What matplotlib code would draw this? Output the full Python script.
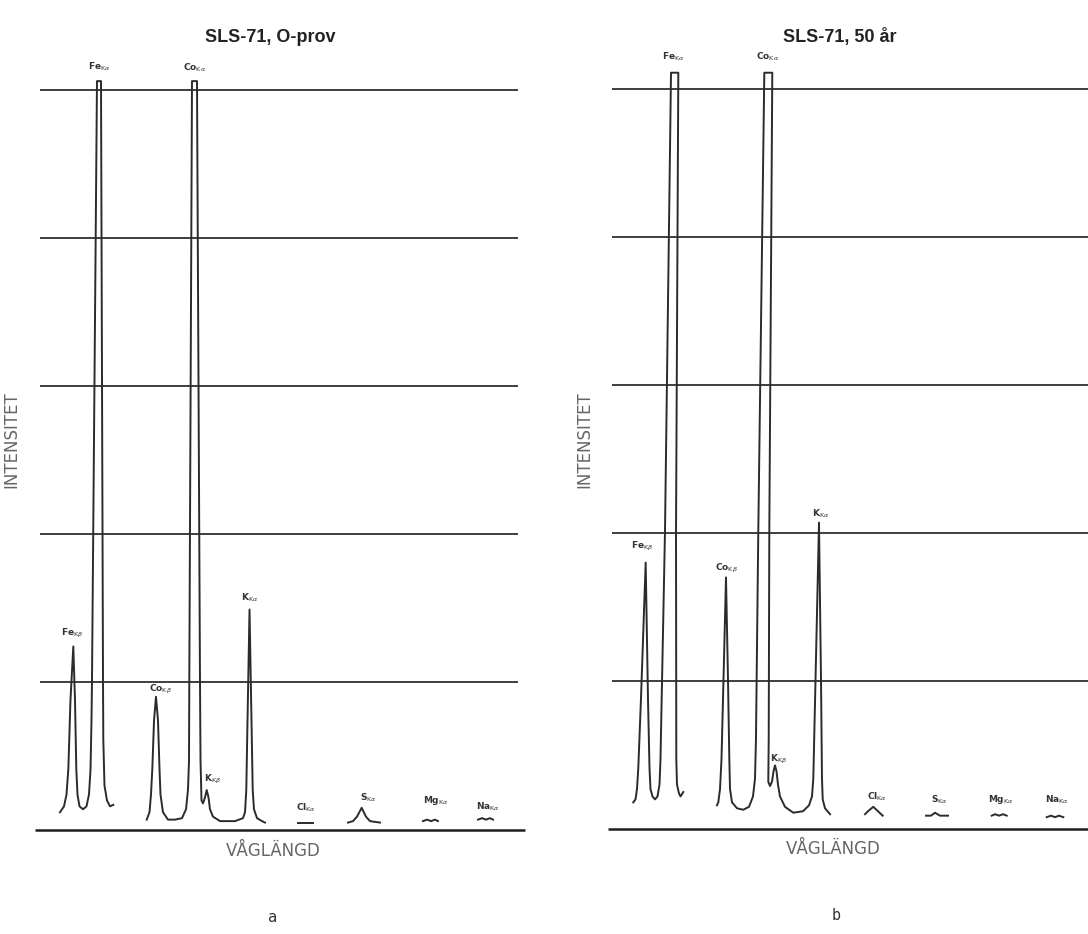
import matplotlib.pyplot as plt

FIG_W_PX = 1088
FIG_H_PX = 934
DPI = 100

# intensity scale: baseline = 0, one unit per chart division
grid_levels = [1, 2, 3, 4, 5]

# ---- panel a: SLS-71, 0-prov (wavelength in arbitrary chart units) ----
a_fe_wl = [5.10, 5.92, 6.43, 6.80, 7.24, 7.82, 8.16, 8.43, 8.67, 9.08, 9.80, 10.51,
           11.02, 11.33, 11.53, 11.63, 12.65, 13.47, 13.88, 13.94, 14.18, 14.69, 15.31, 15.98]
a_fe_int = [0.12, 0.16, 0.24, 0.41, 0.88, 1.24, 0.88, 0.41, 0.24, 0.16, 0.14, 0.16,
            0.24, 0.41, 0.74, 1.01, 5.06, 5.06, 1.01, 0.61, 0.30, 0.20, 0.16, 0.17]

a_cok_wl = [22.80, 23.37, 23.67, 23.94, 24.29, 24.69, 25.10, 25.41, 25.61, 26.12, 27.14,
            28.57, 30.00, 30.82, 31.22, 31.43, 31.49, 32.04, 33.06, 33.67, 33.78, 33.98,
            34.29, 34.69, 35.04, 35.41, 35.71, 36.33, 37.76, 40.82, 42.45, 42.86, 43.12,
            43.37, 43.78, 44.18, 44.43, 44.69, 45.31, 46.33, 46.94]
a_cok_int = [0.07, 0.12, 0.24, 0.41, 0.74, 0.90, 0.74, 0.41, 0.24, 0.12, 0.07,
             0.07, 0.08, 0.14, 0.27, 0.47, 1.01, 5.06, 5.06, 1.01, 0.47, 0.20,
             0.18, 0.22, 0.27, 0.22, 0.14, 0.09, 0.06, 0.06, 0.08, 0.12, 0.27,
             0.74, 1.49, 0.74, 0.27, 0.14, 0.08, 0.06, 0.05]

a_cl_wl = [53.67, 56.73]
a_cl_int = [0.05, 0.05]
a_s_wl = [63.88, 64.90, 65.71, 66.67, 67.55, 68.37, 70.41]
a_s_int = [0.05, 0.06, 0.09, 0.15, 0.09, 0.06, 0.05]
a_mg_wl = [79.18, 80.00, 80.82, 81.63, 82.24]
a_mg_int = [0.06, 0.07, 0.06, 0.07, 0.06]
a_na_wl = [90.41, 91.22, 92.04, 92.86, 93.47]
a_na_int = [0.07, 0.08, 0.07, 0.08, 0.07]

# ---- panel b: SLS-71, 50 år ----
b_fe_wl = [5.16, 5.61, 5.92, 6.18, 6.73, 7.69, 8.16, 8.47, 8.67, 9.08, 9.59, 10.10,
           10.51, 10.71, 11.63, 12.86, 14.35, 13.88, 13.94, 14.08, 14.49, 14.80, 15.37]
b_fe_int = [0.18, 0.20, 0.27, 0.41, 0.88, 1.80, 0.88, 0.41, 0.27, 0.22, 0.20, 0.22,
            0.30, 0.47, 2.01, 5.11, 5.11, 2.01, 0.47, 0.30, 0.24, 0.22, 0.25]

b_cok_wl = [22.24, 22.51, 22.86, 23.16, 23.57, 24.08, 24.49, 24.76, 24.90, 25.31, 26.33,
            27.61, 28.78, 29.59, 30.00, 30.20, 30.67, 31.90, 33.53, 32.92, 32.80, 32.71,
            33.06, 33.47, 33.78, 34.08, 34.39, 34.69, 35.10, 36.12, 37.82, 39.80, 41.02,
            41.63, 41.90, 42.35, 43.06, 43.47, 43.67, 43.82, 44.29, 45.31]
b_cok_int = [0.16, 0.18, 0.27, 0.47, 1.01, 1.70, 1.01, 0.47, 0.27, 0.18, 0.14,
             0.13, 0.15, 0.22, 0.34, 0.61, 2.01, 5.11, 5.11, 2.01, 0.61, 0.32,
             0.29, 0.32, 0.39, 0.43, 0.39, 0.30, 0.22, 0.15, 0.11, 0.12, 0.16,
             0.22, 0.34, 1.01, 2.07, 1.01, 0.34, 0.20, 0.14, 0.10]

b_cl_wl = [52.45, 53.06, 54.14, 55.10, 56.06]
b_cl_int = [0.10, 0.12, 0.15, 0.12, 0.09]
b_s_wl = [64.90, 65.92, 66.73, 67.76, 69.39]
b_s_int = [0.09, 0.09, 0.11, 0.09, 0.09]
b_mg_wl = [78.31, 79.00, 79.80, 80.61, 81.37]
b_mg_int = [0.09, 0.10, 0.09, 0.10, 0.09]
b_na_wl = [89.53, 90.41, 91.22, 92.04, 92.92]
b_na_int = [0.08, 0.09, 0.08, 0.09, 0.08]

peak_labels = ["Fe$_{\\mathrm{K}\\beta}$", "Fe$_{\\mathrm{K}\\alpha}$",
               "Co$_{\\mathrm{K}\\beta}$", "Co$_{\\mathrm{K}\\alpha}$",
               "K$_{\\mathrm{K}\\beta}$", "K$_{\\mathrm{K}\\alpha}$",
               "Cl$_{\\mathrm{K}\\alpha}$", "S$_{\\mathrm{K}\\alpha}$",
               "Mg$_{\\mathrm{K}\\alpha}$", "Na$_{\\mathrm{K}\\alpha}$"]

# label anchor positions (wavelength, intensity), same order as peak_labels
a_label_pos = [(7.55, 1.33), (13.06, 5.16), (25.51, 0.95), (32.65, 5.15), (36.33, 0.34),
               (43.88, 1.57), (55.31, 0.15), (67.96, 0.22), (81.84, 0.20), (92.45, 0.16)]
b_label_pos = [(6.94, 1.91), (13.27, 5.22), (24.08, 1.76), (32.65, 5.22), (34.90, 0.47),
               (43.47, 2.13), (54.90, 0.22), (67.55, 0.20), (80.20, 0.20), (91.60, 0.20)]

# layout in pixels
PX_PER_WL = 4.9
PX_PER_INT = 148.0
X_MIN, X_MAX = -1.0, 101.0
Y_MIN, Y_MAX = -0.2, 5.6

LINE_COLOR = "#2b2b2b"
GRID_COLOR = "#1e1e1e"


def add_panel(fig, origin_x_px, base_y_px):
    left = (origin_x_px + X_MIN * PX_PER_WL) / FIG_W_PX
    width = (X_MAX - X_MIN) * PX_PER_WL / FIG_W_PX
    bottom = (FIG_H_PX - (base_y_px - Y_MIN * PX_PER_INT)) / FIG_H_PX
    height = (Y_MAX - Y_MIN) * PX_PER_INT / FIG_H_PX
    ax = fig.add_axes([left, bottom, width, height])
    ax.set_xlim(X_MIN, X_MAX)
    ax.set_ylim(Y_MIN, Y_MAX)
    ax.axis("off")
    return ax


def draw_panel(ax, segments, label_pos, grid_x, base_x):
    ax.hlines(grid_levels, grid_x[0], grid_x[1], color=GRID_COLOR, linewidth=1.2)
    ax.hlines(0, base_x[0], base_x[1], color=GRID_COLOR, linewidth=1.8)
    for wl, inten in segments:
        ax.plot(wl, inten, color=LINE_COLOR, linewidth=1.4, solid_joinstyle="round")
    for text, (x, y) in zip(peak_labels, label_pos):
        ax.text(x, y, text, fontsize=6.5, fontweight="bold", color="#333333",
                ha="center", va="center", clip_on=False)


fig = plt.figure(figsize=(FIG_W_PX / DPI, FIG_H_PX / DPI), dpi=DPI)
fig.patch.set_facecolor("white")

ax_a = add_panel(fig, 35, 830)
draw_panel(ax_a,
           [(a_fe_wl, a_fe_int), (a_cok_wl, a_cok_int), (a_cl_wl, a_cl_int),
            (a_s_wl, a_s_int), (a_mg_wl, a_mg_int), (a_na_wl, a_na_int)],
           a_label_pos, (1.0, 98.6), (0.0, 100.0))

ax_b = add_panel(fig, 608, 829)
draw_panel(ax_b,
           [(b_fe_wl, b_fe_int), (b_cok_wl, b_cok_int), (b_cl_wl, b_cl_int),
            (b_s_wl, b_s_int), (b_mg_wl, b_mg_int), (b_na_wl, b_na_int)],
           b_label_pos, (0.8, 100.0), (0.0, 100.0))


def fx(px):
    return px / FIG_W_PX


def fy(py):
    return 1 - py / FIG_H_PX


title_font = dict(family="Liberation Sans", fontsize=13, fontweight="bold", color="#222222")
fig.text(fx(270), fy(37), "SLS-71, O-prov", ha="center", va="center", **title_font)
fig.text(fx(840), fy(37), "SLS-71, 50 år", ha="center", va="center", **title_font)

axis_font = dict(fontsize=12, color="#666666")
fig.text(fx(11), fy(440), "INTENSITET", rotation=90, ha="center", va="center", **axis_font)
fig.text(fx(584), fy(440), "INTENSITET", rotation=90, ha="center", va="center", **axis_font)
fig.text(fx(273), fy(851), "VÅGLÄNGD", ha="center", va="center", **axis_font)
fig.text(fx(833), fy(849), "VÅGLÄNGD", ha="center", va="center", **axis_font)

fig.text(fx(273), fy(917), "a", ha="center", va="center", family="DejaVu Sans Mono",
         fontsize=11, color="#333333")
fig.text(fx(836), fy(915), "b", ha="center", va="center", family="DejaVu Sans Mono",
         fontsize=11, color="#333333")

fig.savefig("out.png", dpi=DPI)
